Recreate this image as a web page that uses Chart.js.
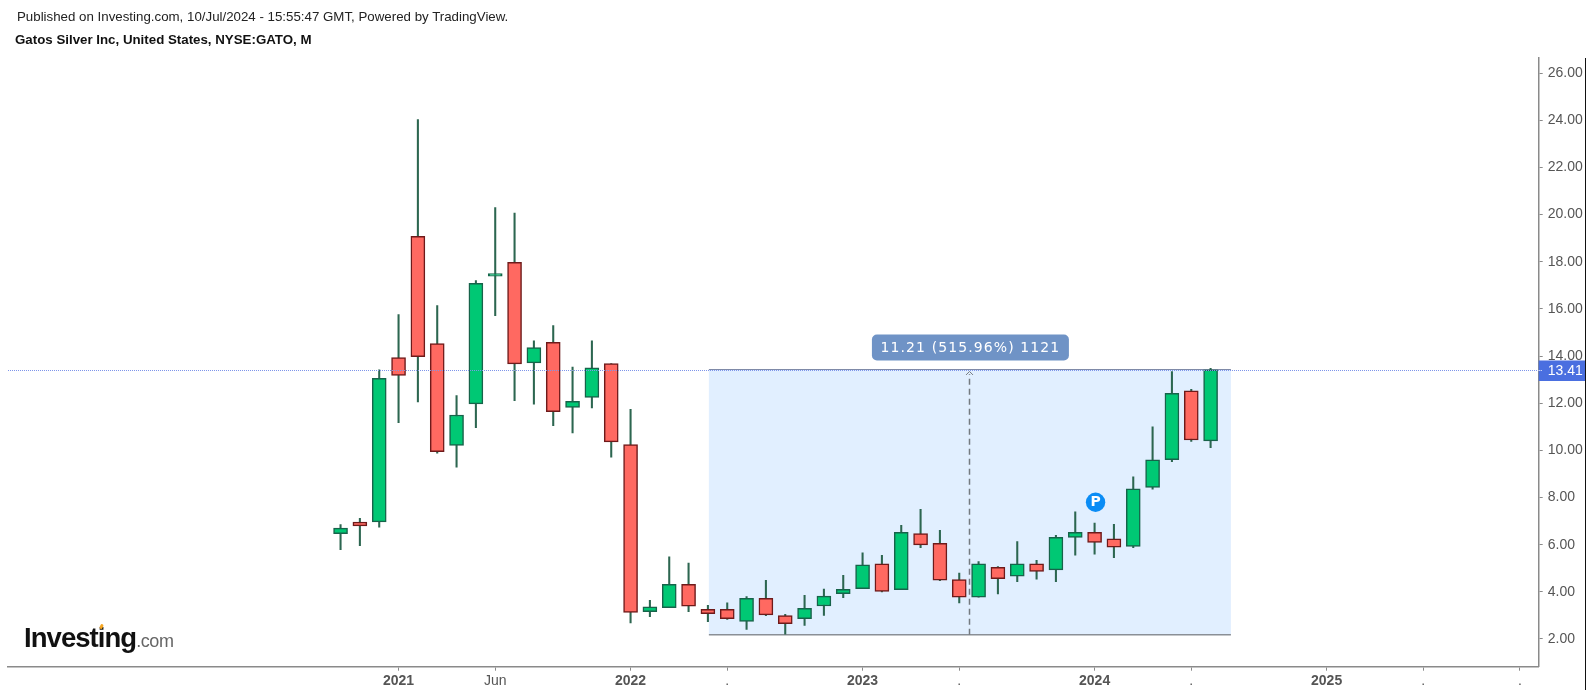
<!DOCTYPE html>
<html><head><meta charset="utf-8">
<script src="https://cdn.jsdelivr.net/npm/chart.js@4"></script>
<style>
html,body{margin:0;padding:0;background:#fff;overflow:hidden}
#wrap{position:relative;width:1593px;height:695px}
canvas{position:absolute;left:0;top:0}
.t{position:absolute;font-family:"Liberation Sans",Arial,sans-serif;white-space:nowrap;color:#222}
</style></head><body>
<div id="wrap">
<canvas id="c" width="1593" height="695"></canvas>
<div class="t" style="left:17px;top:10px;font-size:13.3px;line-height:14px">Published on Investing.com, 10/Jul/2024 - 15:55:47 GMT, Powered by TradingView.</div>
<div class="t" style="left:15px;top:33px;font-size:13.3px;line-height:14px;font-weight:bold;color:#111">Gatos Silver Inc, United States, NYSE:GATO, M</div>
<div class="t" style="left:24px;top:622px;font-size:27.5px;line-height:32px;font-weight:bold;letter-spacing:-.95px;color:#111">Investing<span style="font-weight:normal;font-size:18px;letter-spacing:-.4px;color:#666">.com</span></div>
<div style="position:absolute;left:100px;top:624px;width:3px;height:5px;border-radius:2px;background:#f5a623;transform:rotate(25deg)"></div>
</div>
<script>
const months=["Oct 2020","Nov 2020","Dec 2020","Jan 2021","Feb 2021","Mar 2021","Apr 2021","May 2021","Jun 2021","Jul 2021","Aug 2021","Sep 2021","Oct 2021","Nov 2021","Dec 2021","Jan 2022","Feb 2022","Mar 2022","Apr 2022","May 2022","Jun 2022","Jul 2022","Aug 2022","Sep 2022","Oct 2022","Nov 2022","Dec 2022","Jan 2023","Feb 2023","Mar 2023","Apr 2023","May 2023","Jun 2023","Jul 2023","Aug 2023","Sep 2023","Oct 2023","Nov 2023","Dec 2023","Jan 2024","Feb 2024","Mar 2024","Apr 2024","May 2024","Jun 2024","Jul 2024"];
const opens=[6.47,6.96,6.97,13.94,19.08,14.53,10.21,11.97,17.39,17.97,13.71,14.58,11.82,12.24,13.68,10.25,3.16,3.33,4.32,3.26,3.26,2.75,3.72,2.99,2.86,3.40,3.92,4.13,5.19,4.09,6.47,6.06,4.52,3.77,5.04,4.66,5.19,4.93,6.31,6.52,6.25,5.93,8.43,9.60,12.52,10.40];
const closes=[6.70,6.80,13.05,13.18,13.97,9.94,11.50,17.08,17.50,13.67,14.36,11.64,12.08,13.50,10.36,3.13,3.36,4.32,3.39,3.07,2.86,3.72,3.02,2.65,3.30,3.82,4.11,5.15,4.02,6.52,5.99,4.50,3.77,5.19,4.56,5.19,4.87,6.31,6.52,6.10,5.89,8.37,9.60,12.42,10.44,13.41];
const highs=[6.85,7.12,13.41,15.76,24.03,16.14,12.32,17.20,20.30,20.06,14.65,15.29,13.53,14.65,13.68,11.74,3.64,5.48,5.22,3.43,3.53,3.80,4.49,3.05,3.85,4.12,4.70,5.65,5.55,6.82,7.50,6.61,4.80,5.28,5.07,6.13,5.34,6.40,7.39,6.92,6.86,8.88,11.00,13.34,12.59,13.48];
const lows=[5.79,5.96,6.74,11.17,12.05,9.88,9.29,10.96,15.71,12.11,11.96,11.05,10.74,11.80,9.71,2.68,2.95,3.33,3.16,2.73,2.83,2.41,2.99,2.20,2.58,3.00,3.75,4.13,4.00,4.09,5.87,4.47,3.53,3.77,3.91,4.43,4.54,4.43,5.55,5.60,5.45,5.87,8.35,9.52,10.38,10.11];
const tickIndex=[3,8,15,20,27,32,39,44,51,56,61];
const tickText=["2021","Jun","2022",".","2023",".","2024",".","2025",".","."];
const priceTicks=[2,4,6,8,10,12,14,16,18,20,22,24,26];
const lastPrice=13.41;
const measure={fromIdx:19.05,toIdx:46.05,low:2.18,high:13.41,arrowIdx:32.5,label:"11.21 (515.96%) 1121",pinIdx:39.05,pinPrice:7.8};

const GREEN='#00c874',RED='#ff6961',GB='#17634a',RB='#6e1a1a',WICK='#2c6650';
const up=opens.map((o,i)=>closes[i]>=o);

const overlay={id:'overlay',
 beforeDatasetsDraw(ch){const c=ch.ctx,x=ch.scales.x,y=ch.scales.y;
  const l=x.getPixelForValue(measure.fromIdx),r=x.getPixelForValue(measure.toIdx),t=y.getPixelForValue(measure.high),b=y.getPixelForValue(measure.low);
  c.save();c.fillStyle='#e1efff';c.fillRect(l,t,r-l,b-t);
  c.fillStyle='#8a8f96';c.fillRect(l,Math.round(b)-1,r-l,1.5);
  c.fillStyle='#7f8aa8';c.fillRect(l,Math.round(t)-1,r-l,1);
  const ax=Math.round(x.getPixelForValue(measure.arrowIdx))+.5;
  c.strokeStyle='#747a80';c.lineWidth=1.5;c.setLineDash([6,4]);c.beginPath();c.moveTo(ax,b);c.lineTo(ax,t+4);c.stroke();
  c.setLineDash([]);c.lineWidth=1;c.beginPath();c.moveTo(ax-3.5,t+5);c.lineTo(ax,t+1.5);c.lineTo(ax+3.5,t+5);c.stroke();
  c.restore();},
 afterDatasetsDraw(ch){const c=ch.ctx,x=ch.scales.x,y=ch.scales.y,a=ch.chartArea;
  const t=y.getPixelForValue(measure.high),ax=x.getPixelForValue(measure.arrowIdx);
  const frameX=1585.5;
  c.save();
  // last-price dotted line
  const py=Math.round(y.getPixelForValue(lastPrice))+.5;
  c.strokeStyle='#7e95ea';c.lineWidth=1;c.setLineDash([1,1]);c.beginPath();c.moveTo(a.left,py);c.lineTo(a.right,py);c.stroke();c.setLineDash([]);
  // price tag
  c.fillStyle='#4a6fe0';c.fillRect(a.right,py-10,frameX-a.right,20.5);
  c.strokeStyle='#fff';c.setLineDash([1,1]);c.beginPath();c.moveTo(a.right,py);c.lineTo(a.right+4,py);c.stroke();c.setLineDash([]);
  c.fillStyle='#fff';c.font='14px "Liberation Sans"';c.textBaseline='middle';c.textAlign='left';c.fillText(lastPrice.toFixed(2),a.right+9,py+1);
  // right frame line
  c.strokeStyle='#111';c.lineWidth=1;c.beginPath();c.moveTo(frameX,58);c.lineTo(frameX,690);c.stroke();
  // measure label
  const bw=197,bh=26,bx=ax-bw/2+1.5,by=t-35.5;
  c.fillStyle='#6f93c6';c.beginPath();c.roundRect(bx,by,bw,bh,5);c.fill();
  c.fillStyle='#fff';c.font='14px "DejaVu Sans"';c.letterSpacing='1.1px';c.textAlign='center';c.textBaseline='middle';c.fillText(measure.label,bx+bw/2,by+bh/2+.5);c.letterSpacing='0px';
  // P pin
  const px=x.getPixelForValue(measure.pinIdx),pp=y.getPixelForValue(measure.pinPrice);
  c.fillStyle='#0a8cf5';c.beginPath();c.arc(px,pp,9.7,0,Math.PI*2);c.fill();
  c.fillStyle='#fff';c.font='bold 14px "DejaVu Sans"';c.fillText('P',px,pp+.5);
  c.restore();}
};

new Chart(document.getElementById('c'),{
 type:'bar',
 data:{datasets:[
  {label:'Wick',data:months.map((m,i)=>({x:i,y:[lows[i],highs[i]]})),barThickness:1.4,backgroundColor:WICK,borderWidth:0,order:2,grouped:false},
  {label:'Body',data:months.map((m,i)=>({x:i,y:[opens[i],closes[i]]})),barThickness:14,
   backgroundColor:up.map(u=>u?GREEN:RED),borderColor:up.map(u=>u?GB:RB),borderWidth:1.5,borderSkipped:false,order:1,grouped:false}
 ]},
 options:{responsive:false,animation:false,devicePixelRatio:1,
  layout:{padding:{left:8,top:58,right:0,bottom:0}},
  plugins:{legend:{display:false},tooltip:{enabled:false}},
  scales:{
   x:{type:'linear',min:-17.2,max:61.97,offset:false,
    afterBuildTicks(s){s.ticks=tickIndex.map(v=>({value:v}));},
    afterFit(s){s.height=28.3;},
    grid:{display:true,offset:false,drawOnChartArea:false,drawTicks:true,tickLength:4,tickColor:'#8a8a8a'},
    border:{display:true,color:'#8a8a8a',width:1.5},
    ticks:{autoSkip:false,maxRotation:0,minRotation:0,padding:2,color:'#555',
     font:(ctx)=>({family:'"Liberation Sans"',size:14,weight:/^\d/.test(tickText[ctx.index]||'')?'bold':'normal'}),
     callback:(v)=>tickText[tickIndex.indexOf(v)]}
   },
   y:{type:'linear',position:'right',min:0.825,max:26.64,
    afterBuildTicks(s){s.ticks=priceTicks.map(v=>({value:v}));},
    afterFit(s){s.width=54.3;},
    grid:{display:true,drawOnChartArea:false,drawTicks:true,tickLength:4,tickColor:'#8a8a8a'},
    border:{display:true,color:'#8a8a8a',width:1.5},
    ticks:{padding:5,color:'#555',font:{family:'"Liberation Sans"',size:14},callback:v=>v.toFixed(2)}
   }
  }
 },
 plugins:[overlay]
});
</script>
</body></html>
